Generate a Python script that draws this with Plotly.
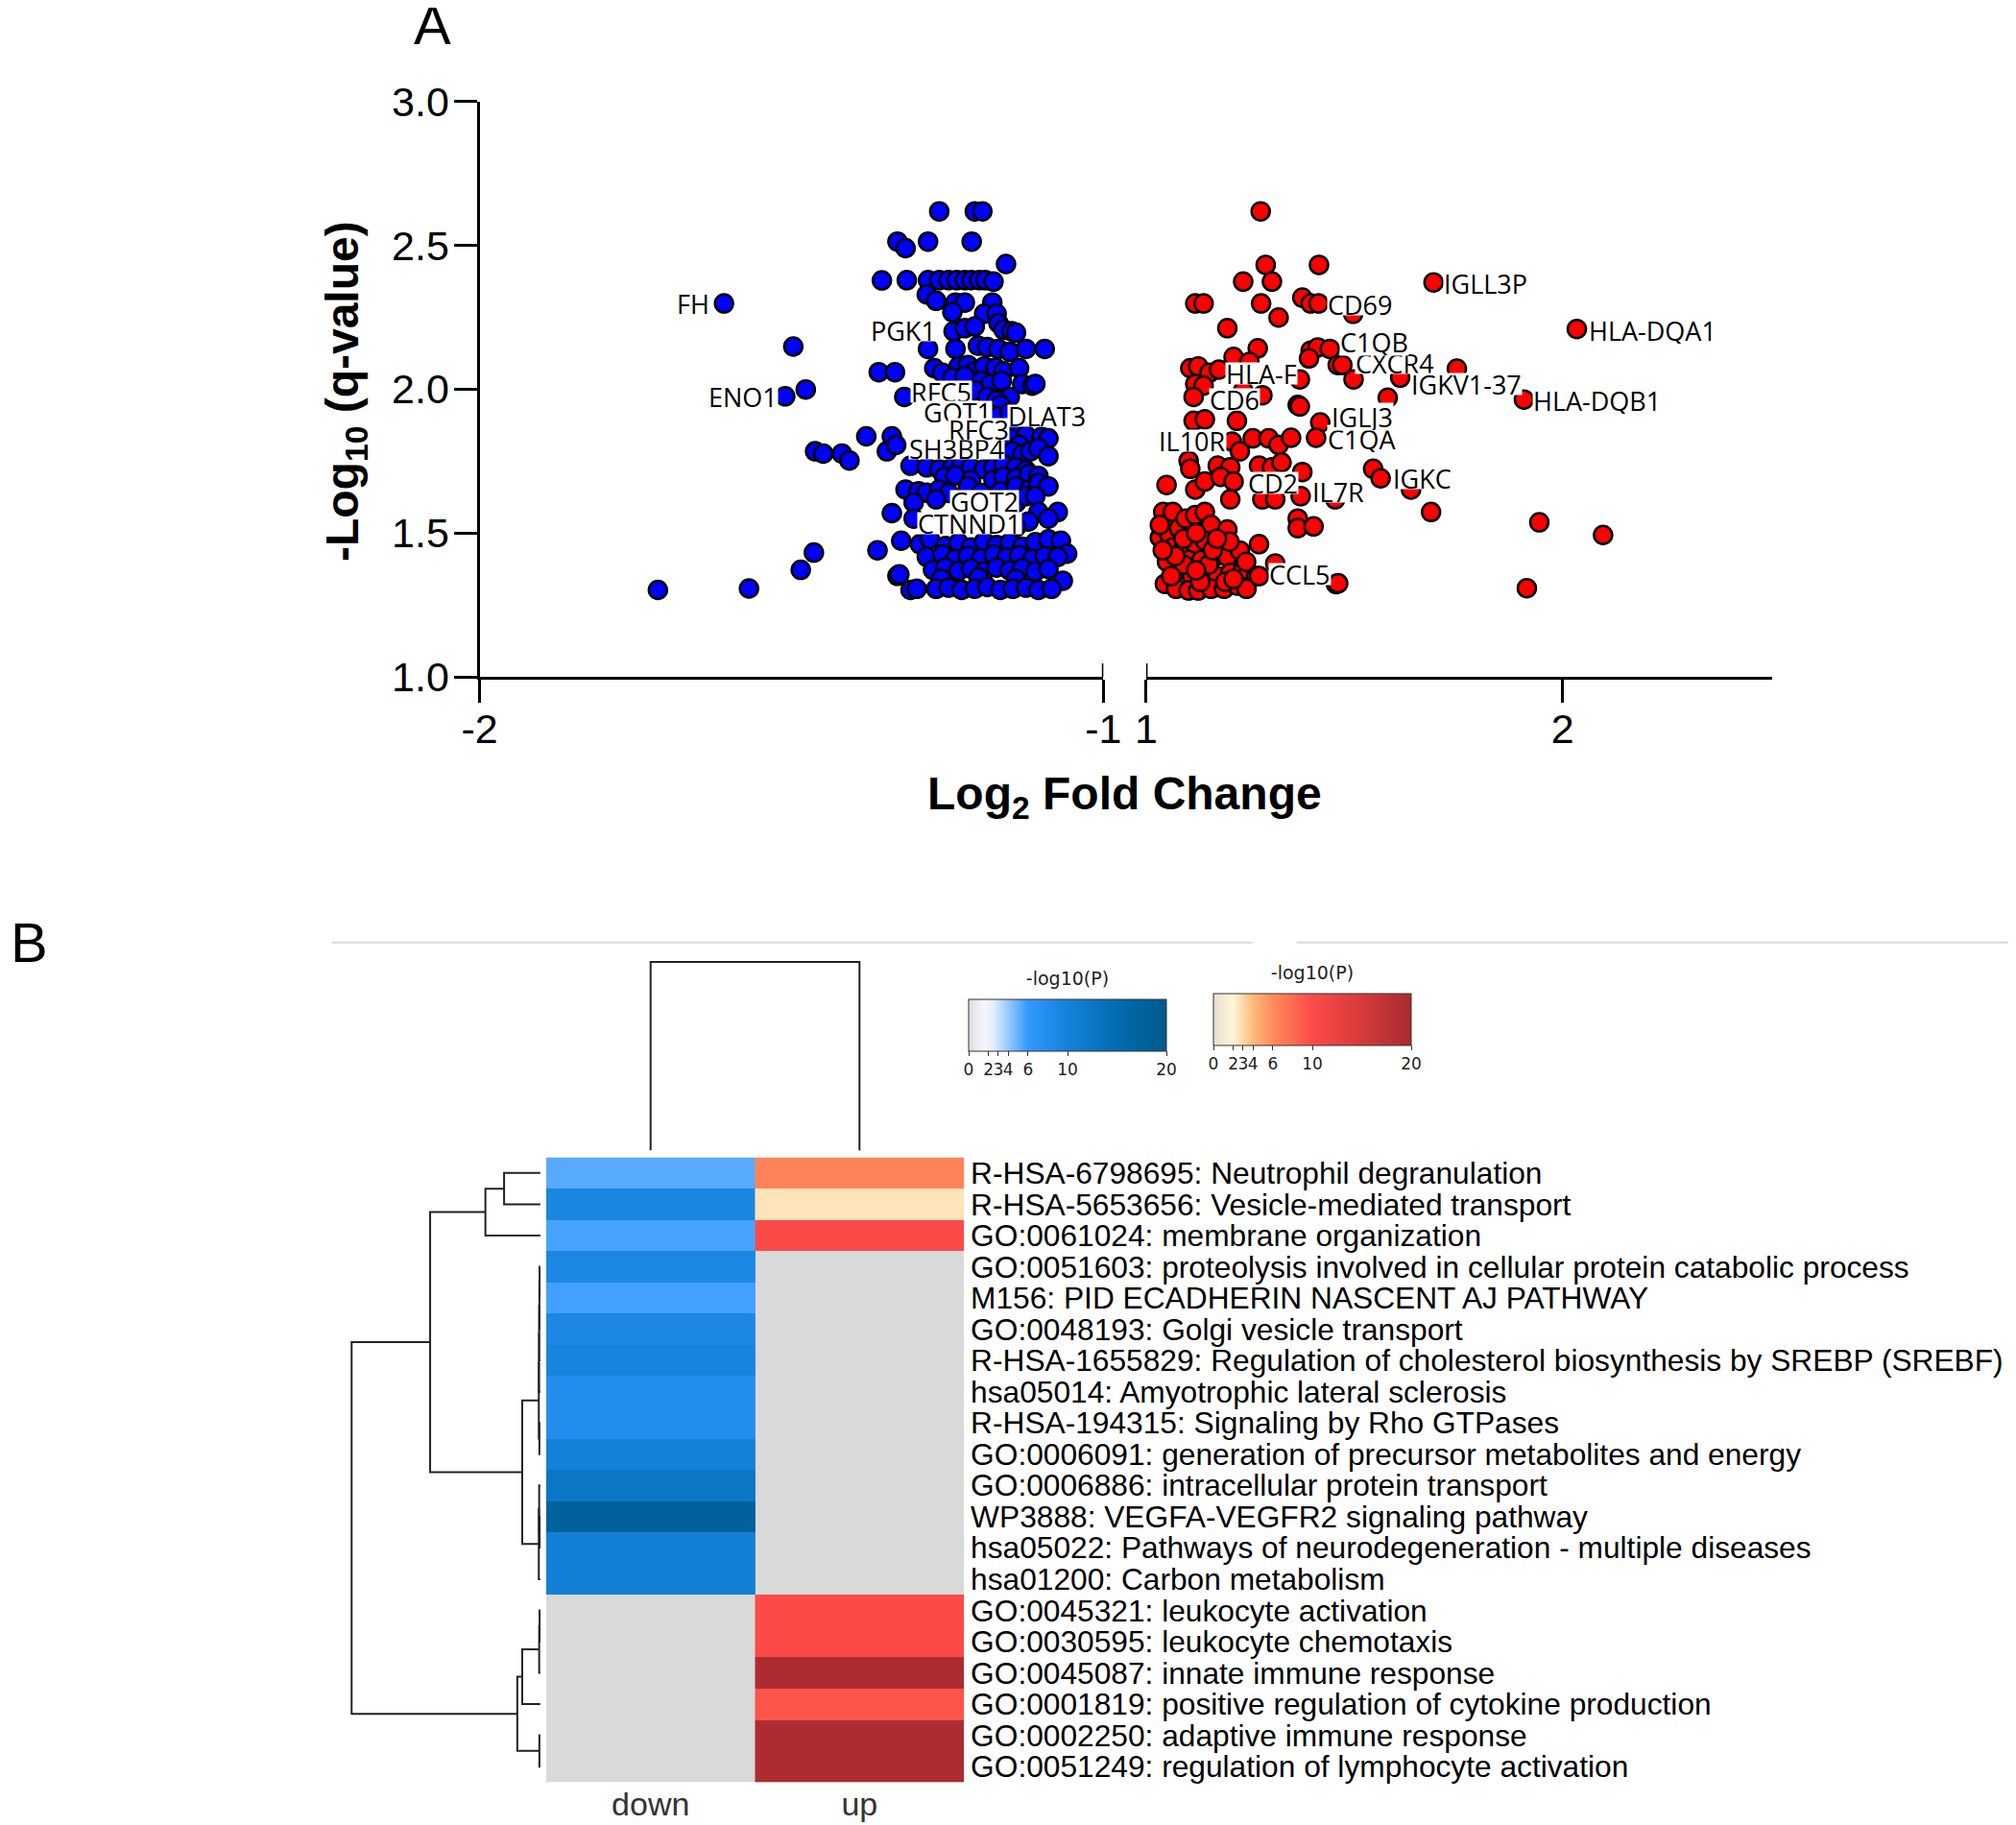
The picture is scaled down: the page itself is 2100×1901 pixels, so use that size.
import plotly.graph_objects as go

# the page puts the figure 8 px in from the window corner; positions below are window pixels
OFF = 8
W, H = 2100 - OFF, 1901 - OFF

# ---------------- panel A: volcano (log2 fold change, -log10 q) ----------------
down_points = [
    (-1.714, 1.302), (-1.608, 2.298), (-1.568, 1.307), (-1.510, 1.975), (-1.497, 2.148), (-1.477, 1.999),
    (-1.485, 1.372), (-1.464, 1.432), (-1.462, 1.784), (-1.449, 1.776), (-1.419, 1.776), (-1.407, 1.752),
    (-1.380, 1.836), (-1.362, 1.440), (-1.347, 1.784), (-1.339, 1.836), (-1.360, 2.059), (-1.334, 2.059),
    (-1.355, 2.378), (-1.339, 1.569), (-1.330, 1.351), (-1.309, 1.302),
    (-1.263, 2.618), (-1.206, 2.618), (-1.194, 2.618),
    (-1.330, 2.513), (-1.317, 2.490), (-1.281, 2.513), (-1.211, 2.513), (-1.156, 2.435),
    (-1.315, 2.379), (-1.281, 2.379), (-1.263, 2.379), (-1.248, 2.379), (-1.235, 2.379), (-1.222, 2.379),
    (-1.211, 2.379), (-1.199, 2.379), (-1.189, 2.379), (-1.176, 2.374),
    (-1.283, 2.329), (-1.268, 2.307), (-1.237, 2.301), (-1.222, 2.301), (-1.178, 2.301),
    (-1.242, 2.268), (-1.191, 2.262), (-1.171, 2.262),
    (-1.168, 2.229), (-1.160, 2.207), (-1.147, 2.201), (-1.140, 2.196),
    (-1.240, 2.201), (-1.222, 2.212), (-1.206, 2.218),
    (-1.281, 2.140), (-1.237, 2.140), (-1.201, 2.151), (-1.186, 2.146), (-1.168, 2.140), (-1.150, 2.130),
    (-1.124, 2.140), (-1.094, 2.140),
    (-1.271, 2.073), (-1.258, 2.057), (-1.232, 2.079), (-1.217, 2.084), (-1.206, 2.062), (-1.191, 2.079),
    (-1.173, 2.075), (-1.160, 2.062), (-1.135, 2.073),
    (-1.242, 2.040), (-1.222, 2.045), (-1.196, 2.029), (-1.181, 2.018), (-1.163, 2.029), (-1.150, 1.973),
    (-1.130, 2.018), (-1.114, 2.012), (-1.109, 2.018),
    (-1.319, 1.973), (-1.206, 1.995), (-1.186, 1.973), (-1.171, 1.962), (-1.165, 1.945),
    (-1.186, 1.918), (-1.168, 1.906), (-1.150, 1.918),
    (-1.332, 1.806), (-1.140, 1.862), (-1.124, 1.840), (-1.099, 1.834), (-1.088, 1.829),
    (-1.150, 1.829), (-1.135, 1.806),
    (-1.145, 1.784), (-1.130, 1.773), (-1.117, 1.784), (-1.104, 1.795), (-1.088, 1.767),
    (-1.309, 1.734), (-1.283, 1.728), (-1.263, 1.722), (-1.242, 1.728), (-1.227, 1.734), (-1.212, 1.728),
    (-1.191, 1.722), (-1.176, 1.728), (-1.160, 1.740), (-1.140, 1.728), (-1.124, 1.718),
    (-1.255, 1.695), (-1.237, 1.700), (-1.212, 1.684), (-1.176, 1.684), (-1.160, 1.695), (-1.140, 1.690),
    (-1.119, 1.706), (-1.104, 1.698),
    (-1.317, 1.651), (-1.296, 1.645), (-1.283, 1.640), (-1.263, 1.651), (-1.248, 1.639), (-1.217, 1.662),
    (-1.196, 1.639), (-1.165, 1.645), (-1.140, 1.662), (-1.119, 1.651), (-1.104, 1.673), (-1.088, 1.662),
    (-1.304, 1.606), (-1.268, 1.617), (-1.217, 1.610), (-1.165, 1.617), (-1.140, 1.605), (-1.124, 1.628),
    (-1.109, 1.628),
    (-1.073, 1.573), (-1.304, 1.550), (-1.104, 1.573), (-1.088, 1.550), (-1.120, 1.540), (-1.140, 1.520),
    (-1.324, 1.473), (-1.294, 1.461), (-1.278, 1.478), (-1.253, 1.455), (-1.232, 1.466), (-1.212, 1.450),
    (-1.191, 1.470), (-1.171, 1.458), (-1.150, 1.466), (-1.130, 1.452), (-1.109, 1.468), (-1.088, 1.478),
    (-1.068, 1.473), (-1.058, 1.428),
    (-1.283, 1.417), (-1.258, 1.425), (-1.237, 1.410), (-1.217, 1.420), (-1.196, 1.412), (-1.176, 1.425),
    (-1.155, 1.415), (-1.135, 1.422), (-1.114, 1.410), (-1.094, 1.420), (-1.073, 1.417),
    (-1.273, 1.372), (-1.253, 1.380), (-1.232, 1.368), (-1.212, 1.376), (-1.191, 1.366), (-1.171, 1.380),
    (-1.150, 1.370), (-1.130, 1.378), (-1.109, 1.366), (-1.088, 1.375),
    (-1.327, 1.356), (-1.065, 1.334), (-1.260, 1.340), (-1.200, 1.345), (-1.140, 1.340),
    (-1.299, 1.306), (-1.268, 1.306), (-1.248, 1.310), (-1.227, 1.302), (-1.206, 1.306), (-1.186, 1.312),
    (-1.165, 1.302), (-1.145, 1.306), (-1.124, 1.310), (-1.104, 1.302), (-1.083, 1.306),
]

up_points = [
    (1.275, 2.618),
    (1.287, 2.432), (1.415, 2.432),
    (1.233, 2.374), (1.302, 2.374),
    (1.118, 2.298), (1.138, 2.298), (1.276, 2.298), (1.375, 2.318), (1.395, 2.298), (1.414, 2.298), (1.497, 2.262),
    (1.318, 2.249), (1.195, 2.212),
    (1.268, 2.142), (1.210, 2.112), (1.248, 2.095),
    (1.395, 2.134), (1.412, 2.145), (1.441, 2.140), (1.391, 2.107), (1.460, 2.084), (1.471, 2.084),
    (1.106, 2.073), (1.125, 2.079), (1.152, 2.057), (1.175, 2.068),
    (1.118, 2.018), (1.138, 2.012), (1.498, 2.034), (1.610, 2.040), (1.746, 2.071),
    (1.114, 1.973), (1.279, 1.979), (1.364, 1.945), (1.369, 2.034), (1.233, 1.995), (1.580, 1.970),
    (1.690, 2.371), (2.034, 2.209), (1.907, 1.964),
    (1.114, 1.890), (1.141, 1.895), (1.218, 1.890), (1.418, 1.884), (1.369, 1.940),
    (1.112, 1.829), (1.206, 1.818), (1.225, 1.784), (1.256, 1.829), (1.294, 1.829), (1.318, 1.806),
    (1.348, 1.831), (1.408, 1.831),
    (1.102, 1.751), (1.106, 1.723), (1.172, 1.734), (1.202, 1.728), (1.271, 1.734), (1.302, 1.728),
    (1.325, 1.745), (1.375, 1.712),
    (1.545, 1.723), (1.563, 1.690), (1.636, 1.651), (1.454, 1.617),
    (1.049, 1.667), (1.118, 1.651), (1.141, 1.679), (1.179, 1.695), (1.210, 1.679), (1.279, 1.617),
    (1.310, 1.617), (1.371, 1.628), (1.202, 1.617),
    (1.364, 1.550), (1.364, 1.517), (1.402, 1.523), (1.684, 1.573), (1.944, 1.537), (2.097, 1.493),
    (1.041, 1.573), (1.064, 1.573), (1.033, 1.484), (1.056, 1.495), (1.079, 1.517), (1.095, 1.550),
    (1.118, 1.562), (1.141, 1.573), (1.156, 1.528), (1.195, 1.512),
    (1.064, 1.450), (1.087, 1.439), (1.118, 1.461), (1.141, 1.473), (1.164, 1.450), (1.033, 1.528),
    (1.102, 1.406), (1.133, 1.406), (1.164, 1.417), (1.195, 1.417), (1.225, 1.439), (1.271, 1.461),
    (1.079, 1.372), (1.110, 1.350), (1.141, 1.361), (1.172, 1.350), (1.202, 1.361), (1.233, 1.372),
    (1.264, 1.350), (1.310, 1.394),
    (1.045, 1.323), (1.072, 1.306), (1.102, 1.300), (1.125, 1.300), (1.156, 1.306), (1.187, 1.306),
    (1.218, 1.317), (1.241, 1.306), (1.271, 1.350),
    (1.456, 1.322), (1.461, 1.325), (1.914, 1.308),
    (1.050, 1.400), (1.090, 1.390), (1.150, 1.390), (1.060, 1.350), (1.130, 1.330), (1.190, 1.330),
    (1.160, 1.440), (1.090, 1.480), (1.120, 1.500), (1.200, 1.470), (1.240, 1.400), (1.210, 1.340),
    (1.070, 1.420), (1.040, 1.440), (1.120, 1.370), (1.170, 1.480),
]

# gene labels: (name, log2FC, -log10 q) where the label text sits; later ones are drawn on top
down_labels = [
    ("FH", -1.657, 2.298), ("ENO1", -1.578, 1.974), ("PGK1", -1.320, 2.205),
    ("SH3BP4", -1.235, 1.795), ("RFC5", -1.260, 1.990), ("GOT1", -1.234, 1.920),
    ("DLAT3", -1.091, 1.907), ("RFC3", -1.199, 1.860), ("CTNND1", -1.214, 1.534),
    ("GOT2", -1.191, 1.612),
]
up_labels = [
    ("IGLL3P", 1.815, 2.368), ("CD69", 1.514, 2.296), ("HLA-DQA1", 2.216, 2.205),
    ("CXCR4", 1.598, 2.090), ("C1QB", 1.547, 2.165), ("HLA-F", 1.276, 2.053),
    ("IGKV1-37", 1.770, 2.018), ("HLA-DQB1", 2.083, 1.962), ("CD6", 1.212, 1.964),
    ("C1QA", 1.518, 1.828), ("IGLJ3", 1.518, 1.904), ("IL10R", 1.110, 1.820),
    ("IGKC", 1.664, 1.690), ("CD2", 1.305, 1.675), ("IL7R", 1.461, 1.645),
    ("CCL5", 1.369, 1.356),
]

# ---------------- panel B: enrichment heatmap ----------------
terms = [
    "R-HSA-6798695: Neutrophil degranulation",
    "R-HSA-5653656: Vesicle-mediated transport",
    "GO:0061024: membrane organization",
    "GO:0051603: proteolysis involved in cellular protein catabolic process",
    "M156: PID ECADHERIN NASCENT AJ PATHWAY",
    "GO:0048193: Golgi vesicle transport",
    "R-HSA-1655829: Regulation of cholesterol biosynthesis by SREBP (SREBF)",
    "hsa05014: Amyotrophic lateral sclerosis",
    "R-HSA-194315: Signaling by Rho GTPases",
    "GO:0006091: generation of precursor metabolites and energy",
    "GO:0006886: intracellular protein transport",
    "WP3888: VEGFA-VEGFR2 signaling pathway",
    "hsa05022: Pathways of neurodegeneration - multiple diseases",
    "hsa01200: Carbon metabolism",
    "GO:0045321: leukocyte activation",
    "GO:0030595: leukocyte chemotaxis",
    "GO:0045087: innate immune response",
    "GO:0001819: positive regulation of cytokine production",
    "GO:0002250: adaptive immune response",
    "GO:0051249: regulation of lymphocyte activation",
]
groups = ["down", "up"]
down_logp = [5.3, 9.2, 5.6, 9.0, 5.7, 9.0, 9.6, 8.1, 8.1, 10.2, 12.5, 17.9, 10.4, 10.4,
             None, None, None, None, None, None]
up_logp = [6.6, 2.6, 10.0, None, None, None, None, None, None, None, None, None, None, None,
           10.0, 10.0, 19.5, 9.4, 19.5, 19.5]
cbar_ticks = [0, 2, 3, 4, 6, 10, 20]

# hierarchical clustering of terms: (child a, child b, height); ids >= 20 are earlier merges
row_linkage = [
    (0, 1, 0.192), (20, 2, 0.291),
    (3, 4, 0.004), (22, 5, 0.005), (23, 6, 0.006), (24, 7, 0.007), (8, 9, 0.005), (25, 26, 0.008),
    (11, 12, 0.004), (10, 28, 0.006), (29, 13, 0.008),
    (27, 30, 0.096), (21, 31, 0.584),
    (14, 15, 0.004), (33, 16, 0.006), (34, 17, 0.096), (18, 19, 0.005), (35, 36, 0.122),
    (32, 37, 1.0),
]
col_linkage = [(0, 1, 1.0)]


def dendro_lines(n, linkage):
    pos = {i: (float(i), 0.0) for i in range(n)}
    ps, hs = [], []
    for k, (a, b, h) in enumerate(linkage):
        pa, ha = pos[a]
        pb, hb = pos[b]
        ps += [pa, pa, pb, pb, None]
        hs += [ha, h, h, hb, None]
        pos[n + k] = ((pa + pb) / 2, h)
    return ps, hs


def px_x(p):
    return (p - OFF) / W


def px_y(p):
    return 1 - (p - OFF) / H


fig = go.Figure()

# volcano scatter
fig.add_trace(go.Scatter(
    x=[p[0] for p in down_points], y=[p[1] for p in down_points], mode="markers",
    marker=dict(size=19, color="#0000ff", line=dict(color="black", width=2.5)),
    xaxis="x", yaxis="y", showlegend=False))
fig.add_trace(go.Scatter(
    x=[p[0] for p in up_points], y=[p[1] for p in up_points], mode="markers",
    marker=dict(size=19, color="#ff0000", line=dict(color="black", width=2.5)),
    xaxis="x2", yaxis="y", showlegend=False))

# heatmap columns, each with its own colour scale
blue_scale = [[0.0, "#dedee6"], [0.08, "#f6f6fc"], [0.12, "#e6f0ff"], [0.2, "#99c9ff"],
              [0.3, "#3399ff"], [0.5, "#1482da"], [0.75, "#026bb1"], [1.0, "#005a8a"]]
red_scale = [[0.0, "#e6ddd5"], [0.1, "#fff5d6"], [0.2, "#ffba7a"], [0.3, "#ff8c5c"],
             [0.5, "#fc4a48"], [0.75, "#d63a3a"], [1.0, "#a82a30"]]

cb_font = dict(family="DejaVu Sans", size=17, color="#222")
cb_common = dict(orientation="h", thickness=54, thicknessmode="pixels", len=206, lenmode="pixels",
                 tickvals=cbar_ticks, ticks="outside", ticklen=5, tickcolor="#333", tickangle=0,
                 tickfont=cb_font, outlinewidth=1, outlinecolor="#333", xpad=0, ypad=0,
                 xanchor="center", yanchor="top")
cb_title = dict(text="-log10(P)", side="top", font=dict(family="DejaVu Sans", size=19, color="#222"))

rows = list(range(len(terms)))
fig.add_trace(go.Heatmap(
    x=[0], y=rows, z=[[v] for v in down_logp],
    zmin=0, zmax=20, colorscale=blue_scale, xaxis="x3", yaxis="y3", hoverongaps=False,
    colorbar=dict(cb_common, x=px_x(1112), y=px_y(1019), title=cb_title)))
fig.add_trace(go.Heatmap(
    x=[1], y=rows, z=[[v] for v in up_logp],
    zmin=0, zmax=20, colorscale=red_scale, xaxis="x3", yaxis="y3", hoverongaps=False,
    colorbar=dict(cb_common, x=px_x(1367), y=px_y(1013), title=cb_title)))

# dendrograms
cp, ch = dendro_lines(len(groups), col_linkage)
fig.add_trace(go.Scatter(x=cp, y=ch, mode="lines", line=dict(color="#222", width=2),
                         xaxis="x4", yaxis="y4", showlegend=False, hoverinfo="skip"))
rp, rh = dendro_lines(len(terms), row_linkage)
fig.add_trace(go.Scatter(x=rh, y=rp, mode="lines", line=dict(color="#222", width=2),
                         xaxis="x5", yaxis="y5", showlegend=False, hoverinfo="skip"))

axis_font = dict(family="Liberation Sans, Arial", size=43, color="black")
hidden = dict(visible=False, showgrid=False, zeroline=False, automargin=False)

hm_ydom = [px_y(1856.4), px_y(1205.6)]
hm_xdom = [px_x(568.9), px_x(1004.1)]

fig.update_layout(
    template="none",
    width=W, height=H, margin=dict(l=0, r=0, t=0, b=0, pad=0),
    paper_bgcolor="white", plot_bgcolor="white", showlegend=False,
    xaxis=dict(domain=[px_x(499.5), px_x(1149.3)], range=[-2, -1], anchor="y", automargin=False,
               showline=True, linewidth=3, linecolor="black", showgrid=False, zeroline=False,
               tickvals=[-2, -1], ticktext=["-2", "-1"], ticks="outside", ticklen=24, tickwidth=3,
               tickcolor="black", tickfont=axis_font, ticklabelstandoff=-10),
    xaxis2=dict(domain=[px_x(1193.9), px_x(1846)], range=[1, 2.503], anchor="y", automargin=False,
                showline=True, linewidth=3, linecolor="black", showgrid=False, zeroline=False,
                tickvals=[1, 2], ticktext=["1", "2"], ticks="outside", ticklen=24, tickwidth=3,
                tickcolor="black", tickfont=axis_font, ticklabelstandoff=-10),
    yaxis=dict(domain=[px_y(705), px_y(105.7)], range=[1, 3], anchor="x", automargin=False,
               showline=True, linewidth=3, linecolor="black", showgrid=False, zeroline=False,
               tickvals=[1, 1.5, 2, 2.5, 3], ticktext=["1.0", "1.5", "2.0", "2.5", "3.0"],
               ticks="outside", ticklen=24, tickwidth=3, tickcolor="black", tickfont=axis_font,
               ticklabelstandoff=-4),
    xaxis3=dict(domain=hm_xdom, range=[-0.5, 1.5], anchor="y3", automargin=False,
                showgrid=False, zeroline=False, showline=False, ticks="",
                tickvals=[0, 1], ticktext=groups,
                tickfont=dict(family="Liberation Sans, Arial", size=34, color="#333")),
    yaxis3=dict(domain=hm_ydom, range=[19.5, -0.5], anchor="x3", side="right", automargin=False,
                showgrid=False, zeroline=False, showline=False, ticks="",
                tickvals=rows, ticktext=terms,
                tickfont=dict(family="Liberation Sans, Arial", size=31.7, color="black"),
                ticklabelstandoff=6),
    xaxis4=dict(hidden, domain=hm_xdom, range=[-0.5, 1.5], anchor="y4"),
    yaxis4=dict(hidden, domain=[px_y(1200.3), px_y(1000.0)], range=[-0.01, 1.01], anchor="x4"),
    xaxis5=dict(hidden, domain=[px_x(364.3), px_x(564.8)], range=[1.01, -0.01], anchor="y5"),
    yaxis5=dict(hidden, domain=hm_ydom, range=[19.5, -0.5], anchor="x5"),
)

shapes = [
    # broken-axis end caps
    dict(type="line", xref="x", yref="y", x0=-1, x1=-1, y0=1, y1=1.047, line=dict(color="black", width=3)),
    dict(type="line", xref="x2", yref="y", x0=1, x1=1, y0=1, y1=1.047, line=dict(color="black", width=3)),
    # grey backdrop for missing heatmap cells
    dict(type="rect", xref="x3", yref="y3", x0=-0.5, x1=1.5, y0=-0.5, y1=19.5,
         fillcolor="#d9d9d9", line=dict(width=0), layer="below"),
    # separator line above panel B
    dict(type="line", xref="paper", yref="paper", x0=px_x(346), x1=px_x(1304.6),
         y0=px_y(981.7), y1=px_y(981.7), line=dict(color="#d9d9d9", width=2)),
    dict(type="line", xref="paper", yref="paper", x0=px_x(1350.5), x1=1,
         y0=px_y(981.7), y1=px_y(981.7), line=dict(color="#d9d9d9", width=2)),
]
fig.update_layout(shapes=shapes)

annotations = []
label_font = dict(family="Open Sans", size=27, color="black")


def label_box_height(name):
    # tight white box, a little taller where a glyph dips below the baseline
    return 28 if any(c in name for c in "QJ") else 22


for ref, labels in (("x", down_labels), ("x2", up_labels)):
    for name, x, y in labels:
        annotations.append(dict(x=x, y=y, xref=ref, yref="y", text=name, showarrow=False,
                                xanchor="center", yanchor="middle", font=label_font,
                                bgcolor="white", borderpad=0, height=label_box_height(name)))

title_font = dict(family="Liberation Sans, Arial", size=48, color="black")
panel_font = dict(family="Liberation Sans, Arial", size=58, color="black")
centered = dict(xref="paper", yref="paper", showarrow=False, xanchor="center", yanchor="middle")
annotations += [
    dict(centered, x=px_x(360), y=px_y(408), textangle=-90,
         text="<b>-Log<sub>10</sub> (q-value)</b>", font=title_font),
    dict(centered, x=px_x(1171), y=px_y(830),
         text="<b>Log<sub>2</sub> Fold Change</b>", font=title_font),
    dict(centered, x=px_x(450), y=px_y(26), text="A", font=panel_font),
    dict(centered, x=px_x(9), y=px_y(982), xanchor="left", text="B", font=panel_font),
]
fig.update_layout(annotations=annotations)

fig.write_html("out.html")
